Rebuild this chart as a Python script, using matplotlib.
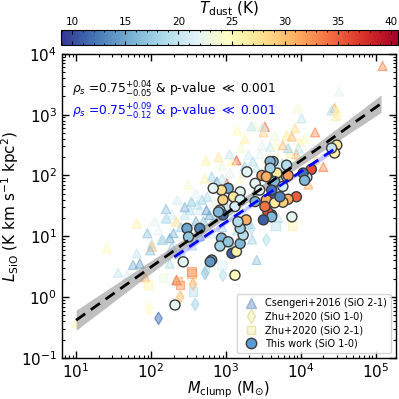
import numpy as np
import matplotlib
matplotlib.use("Agg")
import matplotlib.pyplot as plt
from matplotlib.colors import Normalize
from matplotlib.cm import ScalarMappable
from matplotlib.lines import Line2D
from matplotlib.ticker import LogLocator, NullFormatter, MultipleLocator

# ---------------- data (log10 M_clump, log10 L_SiO, T_dust) ----------------
tri_logM = [5.09, 4.51, 4.45, 4.41, 4.49, 4.47, 3.96, 4.01, 3.92, 3.52, 3.39, 3.34, 3.50, 4.19, 3.81, 3.88,
            3.99, 3.48, 3.59, 3.66, 3.76, 3.94, 3.85, 4.30, 4.01, 3.83,
            3.15, 3.49, 2.73, 3.14, 3.08, 3.30, 3.36, 3.41, 2.81, 2.72, 2.88, 3.01, 2.92, 2.68, 2.54, 2.52,
            2.65, 2.28, 2.21, 2.34, 1.81, 2.25, 2.01, 2.74,
            1.41, 1.81, 1.76, 1.56, 1.68, 2.01, 1.99, 2.14, 2.34, 1.92, 1.00, 2.25, 2.34, 2.16, 2.28, 3.41, 2.19,
            2.45, 2.60, 2.75, 2.85, 2.95, 3.05, 3.20, 3.25, 3.45, 3.55, 3.70, 3.62, 3.75, 3.90, 3.97, 3.20,
            3.05, 2.95, 2.60, 2.40, 2.50, 2.70, 2.85, 3.00, 3.10, 3.30, 3.40, 3.55, 3.70, 2.30, 2.10, 2.40,
            2.55, 2.65, 2.80, 2.95, 3.15, 3.30, 3.60, 3.85, 4.10, 4.20, 4.05, 3.65, 3.25, 2.90, 2.50, 2.35,
            1.95, 2.05, 1.85, 3.05, 3.35, 3.70, 2.20, 2.45, 2.62, 2.78, 3.12, 3.22]
tri_logL = [3.80, 3.38, 3.11, 3.07, 3.06, 2.98, 3.11, 2.94, 2.78, 2.80, 2.80, 2.81, 2.71, 2.71, 2.66, 2.64,
            2.55, 2.50, 2.47, 2.49, 2.50, 2.35, 2.37, 2.14, 2.34, 2.45,
            2.74, 2.80, 2.25, 2.25, 2.23, 2.34, 2.23, 2.12, 1.98, 1.95, 1.90, 1.87, 1.76, 1.60, 1.57, 1.43,
            1.43, 1.35, 1.29, 1.24, 1.21, 0.97, 0.88, 1.43,
            0.80, 0.72, 0.53, 0.40, 0.35, 0.83, 0.77, 0.94, 0.72, 0.33, -0.43, 0.55, 0.28, 0.94, 0.83, 0.61, 1.29,
            1.35, 1.70, 1.65, 1.55, 1.95, 2.05, 1.95, 2.15, 2.35, 2.25, 2.30, 2.12, 2.20, 2.20, 2.45, 2.45,
            2.35, 2.15, 1.25, 1.15, 1.05, 1.25, 1.30, 1.50, 1.35, 1.55, 1.75, 1.85, 1.95, 1.05, 1.10, 0.75,
            0.85, 1.00, 1.05, 1.15, 1.10, 1.20, 1.50, 1.70, 1.85, 2.25, 2.60, 2.65, 2.60, 2.30, 1.85, 1.60,
            1.05, 1.25, 0.55, 0.90, 0.95, 1.30, 1.45, 1.48, 1.52, 1.35, 1.62, 1.40]
tri_T = [33, 22, 31, 19, 25, 27, 24, 20, 28, 34, 24, 20, 29, 33, 27, 30,
         26, 22, 20, 24, 30, 32, 26, 33, 22, 18,
         25, 21, 26, 35, 25, 21, 19, 20, 18, 26, 15, 35, 21, 18, 17, 19,
         21, 21, 19, 28, 26, 15, 20, 14,
         25, 20, 16, 20, 21, 30, 17, 18, 24, 31, 25, 19, 36, 19, 18, 17, 20,
         20, 22, 19, 23, 20, 22, 24, 18, 22, 26, 24, 21, 19, 23, 20, 24,
         20, 23, 16, 18, 20, 17, 19, 18, 20, 22, 17, 21, 25, 16, 22, 19,
         18, 16, 21, 18, 19, 17, 20, 22, 31, 28, 25, 23, 26, 27, 24, 21,
         17, 22, 15, 16, 18, 20, 17, 16, 19, 15, 18, 21]

dia_logM = [3.54, 2.96, 2.74, 2.56, 2.59, 2.39, 1.97, 2.10, 2.72, 3.34]
dia_logL = [0.94, 0.36, 0.44, 0.21, -0.12, 0.00, -0.19, -0.35, 0.39, 1.13]
dia_T = [19, 19, 19, 31, 18, 30, 25, 12, 17, 19]

sq_logM = [1.96, 2.16, 2.39, 2.54, 2.56, 2.54, 3.88, 2.94, 3.66, 2.36]
sq_logL = [0.20, 0.31, 0.20, 0.39, 0.09, 0.42, 1.18, 0.53, 1.18, 0.26]
sq_T = [26, 23, 33, 31, 19, 33, 26, 21, 19, 31]

cir_logM = [4.48, 4.45, 4.41, 4.14, 4.08, 4.03, 4.05, 3.94, 3.83, 3.76, 3.63, 3.88, 3.61, 3.81, 3.81, 3.68,
            3.63, 3.83, 3.59, 3.59, 3.28, 3.48, 3.54, 3.65, 3.39, 3.03, 3.19, 3.10, 2.94, 2.83, 2.96, 2.92,
            3.19, 3.45, 3.61, 3.54, 3.39, 3.76, 3.56, 3.65, 3.72, 2.96, 3.61,
            2.48, 2.50, 2.94, 2.92, 2.81, 3.08, 3.14, 3.19, 3.23, 3.19, 2.43, 3.12, 2.32, 2.65, 3.03, 2.90,
            3.50, 3.27, 3.16, 3.52, 3.12, 2.79]
cir_logL = [2.50, 2.37, 2.45, 2.10, 1.97, 2.04, 1.92, 1.65, 1.61, 1.56, 1.63, 1.32, 1.35, 2.17, 1.98, 2.04,
            2.23, 2.00, 2.23, 2.12, 2.06, 2.00, 1.98, 1.90, 1.87, 1.79, 1.73, 1.65, 1.76, 1.79, 1.60, 1.43,
            1.60, 1.76, 1.76, 1.60, 1.57, 1.82, 1.40, 1.55, 1.65, 1.35, 1.32,
            1.13, 0.99, 0.97, 0.84, 0.61, 0.72, 0.75, 0.88, 1.02, 1.13, 0.58, 0.36, -0.13, 1.13, 0.91, 1.40,
            1.27, 1.27, 1.24, 1.49, 1.49, 0.58]
cir_T = [27, 26, 20, 36, 20, 12, 16, 35, 31, 29, 11, 22, 36, 19, 20, 27,
         16, 32, 16, 18, 22, 32, 31, 16, 22, 15, 22, 27, 28, 22, 29, 19,
         21, 22, 12, 31, 16, 21, 36, 27, 13, 12, 16,
         15, 17, 16, 18, 15, 11, 26, 16, 19, 18, 22, 25, 22, 13, 17, 16,
         11, 31, 19, 34, 21, 14]

# fits (log L = slope * log M + intercept)
fit_all = dict(slope=0.875, intercept=-1.255, lo=1.0, hi=5.07, c=3.2, a=0.06, b=0.07)
fit_this = dict(slope=0.83, intercept=-1.257, lo=2.31, hi=4.46, c=3.3, a=0.035, b=0.03)

label_all = r"$\rho_s$ =0.75$^{+0.04}_{-0.05}$ & p-value $\ll$ 0.001"
label_this = r"$\rho_s$ =0.75$^{+0.09}_{-0.12}$ & p-value $\ll$ 0.001"

Tmin, Tmax = 8.9, 40.7
cmap = plt.get_cmap("RdYlBu_r")
norm = Normalize(Tmin, Tmax)

# ---------------- figure ----------------
fig = plt.figure(figsize=(3.99, 3.99), dpi=100)
ax = fig.add_axes([0.155, 0.103, 0.837, 0.762])
cax = fig.add_axes([0.152, 0.888, 0.846, 0.037])

def col(T, alpha):
    c = np.array(cmap(norm(np.asarray(T, float))))
    c[:, 3] = alpha
    return c

def p10(a):
    return 10 ** np.asarray(a, float)

ax.scatter(p10(tri_logM), p10(tri_logL), marker="^", s=42, facecolors=col(tri_T, 0.42),
           edgecolors=col(tri_T, 0.65), linewidths=0.9, zorder=2)
ax.scatter(p10(dia_logM), p10(dia_logL), marker="d", s=40, facecolors=col(dia_T, 0.5),
           edgecolors=col(dia_T, 0.65), linewidths=0.9, zorder=2)
ax.scatter(p10(sq_logM), p10(sq_logL), marker="s", s=36, facecolors=col(sq_T, 0.4),
           edgecolors=col(sq_T, 0.6), linewidths=0.9, zorder=2)

def draw_fit(f, color, bandcolor, balpha):
    x = np.linspace(f["lo"], f["hi"], 100)
    y = f["slope"] * x + f["intercept"]
    w = np.sqrt(f["a"] ** 2 + (f["b"] * (x - f["c"])) ** 2)
    ax.fill_between(10 ** x, 10 ** (y - w), 10 ** (y + w), color=bandcolor, alpha=balpha, lw=0, zorder=3)
    ax.plot(10 ** x, 10 ** y, ls=(0, (4, 2.5)), color=color, lw=2.0, zorder=5)

draw_fit(fit_all, "black", "0.55", 0.55)
ax.scatter(p10(cir_logM), p10(cir_logL), marker="o", s=52, c=cmap(norm(np.asarray(cir_T, float))),
           edgecolors="#3a3a3a", linewidths=1.0, zorder=4)
draw_fit(fit_this, "blue", "#7f7fff", 0.45)

ax.set_xscale("log")
ax.set_yscale("log")
ax.set_xlim(6.45, 1.85e5)
ax.set_ylim(0.1, 1e4)
ax.xaxis.set_major_locator(LogLocator(base=10, numticks=10))
ax.yaxis.set_major_locator(LogLocator(base=10, numticks=10))
ax.xaxis.set_minor_locator(LogLocator(base=10, subs=np.arange(2, 10), numticks=20))
ax.yaxis.set_minor_locator(LogLocator(base=10, subs=np.arange(2, 10), numticks=20))
ax.xaxis.set_minor_formatter(NullFormatter())
ax.yaxis.set_minor_formatter(NullFormatter())
ax.tick_params(which="both", direction="in", top=True, right=True, labelsize=11)
ax.tick_params(axis="x", which="major", pad=3)
ax.tick_params(which="major", length=5, width=1)
ax.tick_params(which="minor", length=2.5, width=0.8)
for s in ax.spines.values():
    s.set_linewidth(1.0)

ax.set_xlabel(r"$M_{\rm clump}$ (M$_{\odot}$)", fontsize=10.5, labelpad=-1)
ax.set_ylabel(r"$L_{\rm SiO}$ (K km s$^{-1}$ kpc$^{2}$)", fontsize=11, labelpad=0)

ax.text(0.03, 0.88, label_all, transform=ax.transAxes, fontsize=8.8, color="black", va="center")
ax.text(0.03, 0.81, label_this, transform=ax.transAxes, fontsize=8.8, color="blue", va="center")

handles = [
    Line2D([], [], marker="^", ls="none", markersize=7, markerfacecolor=(0.55, 0.66, 0.82, 0.6),
           markeredgecolor=(0.55, 0.66, 0.82, 0.8)),
    Line2D([], [], marker="d", ls="none", markersize=7, markerfacecolor=(0.97, 0.96, 0.78, 0.7),
           markeredgecolor=(0.9, 0.88, 0.65, 0.9)),
    Line2D([], [], marker="s", ls="none", markersize=6, markerfacecolor=(0.97, 0.96, 0.78, 0.7),
           markeredgecolor=(0.9, 0.88, 0.65, 0.9)),
    Line2D([], [], marker="o", ls="none", markersize=7.5, markerfacecolor="#5b9bd5",
           markeredgecolor="#3a3a3a"),
]
labels = ["Csengeri+2016 (SiO 2-1)", "Zhu+2020 (SiO 1-0)", "Zhu+2020 (SiO 2-1)", "This work (SiO 1-0)"]
ax.legend(handles, labels, loc="lower right", fontsize=7, frameon=True, handletextpad=0.4,
          borderpad=0.45, labelspacing=0.35, borderaxespad=0.5)

sm = ScalarMappable(norm=norm, cmap=cmap)
cb = fig.colorbar(sm, cax=cax, orientation="horizontal")
cb.set_ticks([10, 15, 20, 25, 30, 35, 40])
cax.xaxis.set_ticks_position("top")
cax.xaxis.set_label_position("top")
cax.xaxis.set_minor_locator(MultipleLocator(1))
cax.tick_params(which="both", direction="in", labelsize=7.5, top=True, bottom=True, pad=2)
cax.tick_params(which="major", length=3)
cax.tick_params(which="minor", length=1.5)
cb.set_label(r"$T_{\rm dust}$ (K)", fontsize=11, labelpad=3)

fig.savefig("out.png", dpi=100)
